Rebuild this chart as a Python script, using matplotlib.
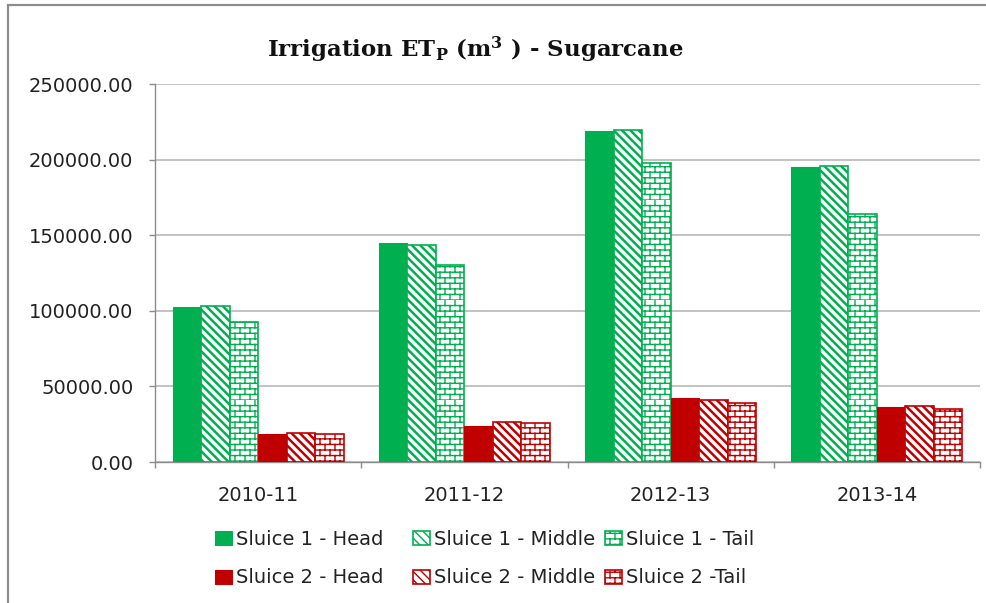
import warnings
import numpy as np
import matplotlib
matplotlib.use('Agg')
import matplotlib.pyplot as plt
import matplotlib.hatch as mhatch
from matplotlib.path import Path
from matplotlib.patches import Rectangle
from matplotlib.ticker import FormatStrFormatter, FixedLocator

warnings.filterwarnings('ignore')

# ================= DATA =================
years = ['2010-11', '2011-12', '2012-13', '2013-14']
s1_head = [102700, 144600, 219000, 194900]
s1_middle = [103400, 143700, 219500, 195800]
s1_tail = [92800, 130100, 198000, 163800]
s2_head = [18500, 24000, 42100, 36600]
s2_middle = [19200, 26700, 41200, 37000]
s2_tail = [18300, 26000, 39000, 35000]

GREEN = '#00B050'
RED = '#C00000'


# brick hatch ('b') -- matplotlib has no brick pattern built in
class BrickHatch(mhatch.HatchPatternBase):
    def __init__(self, hatch, density):
        self.rows = 18 if 'b' in hatch else 0
        self.cols = 10
        self.num_vertices = self.rows * (self.cols + 1) * 2

    def set_vertices_and_codes(self, vertices, codes):
        k = 0
        for i in range(self.rows):
            y0 = i / self.rows
            y1 = (i + 1) / self.rows
            vertices[k] = (0, y0)
            vertices[k + 1] = (1, y0)
            k += 2
            for j in range(self.cols):
                xx = (j + 0.5 * (i % 2)) / self.cols
                vertices[k] = (xx, y0)
                vertices[k + 1] = (xx, y1)
                k += 2
        codes[0::2] = Path.MOVETO
        codes[1::2] = Path.LINETO


mhatch._hatch_types.append(BrickHatch)

plt.rcParams['font.family'] = ['DejaVu Sans']
plt.rcParams['mathtext.fontset'] = 'custom'
plt.rcParams['mathtext.rm'] = 'DejaVu Serif:bold'
plt.rcParams['mathtext.it'] = 'DejaVu Serif:bold'
plt.rcParams['mathtext.bf'] = 'DejaVu Serif:bold'

fig = plt.figure(figsize=(9.86, 6.03), dpi=100)
ax = fig.add_axes([155 / 986, 1 - 462 / 603, 825 / 986, 378 / 603])

x = np.arange(len(years))
w = 0.138
series = [
    (s1_head, GREEN, None, 'Sluice 1 - Head', 0.0),
    (s1_middle, GREEN, r'\\\\', 'Sluice 1 - Middle', 1.8),
    (s1_tail, GREEN, 'b', 'Sluice 1 - Tail', 1.0),
    (s2_head, RED, None, 'Sluice 2 - Head', 0.0),
    (s2_middle, RED, r'\\\\', 'Sluice 2 - Middle', 1.8),
    (s2_tail, RED, 'b', 'Sluice 2 -Tail', 1.0),
]
bars = []
for i, (vals, col, hatch, lab, hlw) in enumerate(series):
    plt.rcParams['hatch.linewidth'] = hlw if hlw else 1.0
    if hatch is None:
        b = ax.bar(x + (i - 2.5) * w, vals, w, color=col, edgecolor=col,
                   linewidth=0.8, label=lab, zorder=3)
    else:
        b = ax.bar(x + (i - 2.5) * w, vals, w, color='white', edgecolor=col,
                   linewidth=1.2, hatch=hatch, label=lab, zorder=3)
        for p in b:
            if hasattr(p, 'set_hatch_linewidth'):
                p.set_hatch_linewidth(hlw)
    bars.append(b)

ax.set_xlim(-0.5, len(years) - 0.5)
ax.set_ylim(0, 250000)
ax.set_yticks(np.arange(0, 250001, 50000))
ax.yaxis.set_major_formatter(FormatStrFormatter('%.2f'))
ax.set_xticks(x)
ax.set_xticklabels(years)
ax.xaxis.set_minor_locator(FixedLocator(np.arange(-0.5, len(years), 1.0)))

ax.grid(axis='y', color='#B3B3B3', linewidth=1.1, zorder=0)
ax.set_axisbelow(True)
for s in ['top', 'right']:
    ax.spines[s].set_visible(False)
for s in ['left', 'bottom']:
    ax.spines[s].set_color('#8C8C8C')
    ax.spines[s].set_linewidth(1.0)

ax.tick_params(axis='y', length=4.5, width=1.0, color='#8C8C8C', pad=11,
               labelsize=14, labelcolor='#222222')
ax.tick_params(axis='x', which='major', length=0, pad=17, labelsize=14,
               labelcolor='#222222')
ax.tick_params(axis='x', which='minor', length=4.5, width=1.0, color='#8C8C8C')

fig.text(475 / 986, 1 - 50 / 603,
         r'Irrigation ET$_{\mathrm{P}}$ (m$^{3}$ ) - Sugarcane',
         ha='center', va='center', fontsize=16.5, fontweight='bold',
         family='DejaVu Serif', color='#111111')

# legend: one small legend per column so the columns sit where Excel put them
col_x = [215, 413, 605]
for c in range(3):
    fig.legend([bars[c], bars[c + 3]], [series[c][3], series[c + 3][3]],
               loc='upper left', bbox_to_anchor=(col_x[c] / 986, 1 - 530 / 603),
               ncol=1, frameon=False, fontsize=14, handlelength=0.85,
               handleheight=0.75, handletextpad=0.25,
               labelspacing=1.0, borderpad=0, borderaxespad=0,
               labelcolor='#222222')

# outer chart border (cut off on the right and bottom in the reference)
fig.add_artist(Rectangle((8 / 986, -0.1), 1.2, 1.1 - 5 / 603,
                         transform=fig.transFigure, fill=False,
                         edgecolor='#8C8C8C', linewidth=1.6))

fig.savefig('out.png', dpi=100)
